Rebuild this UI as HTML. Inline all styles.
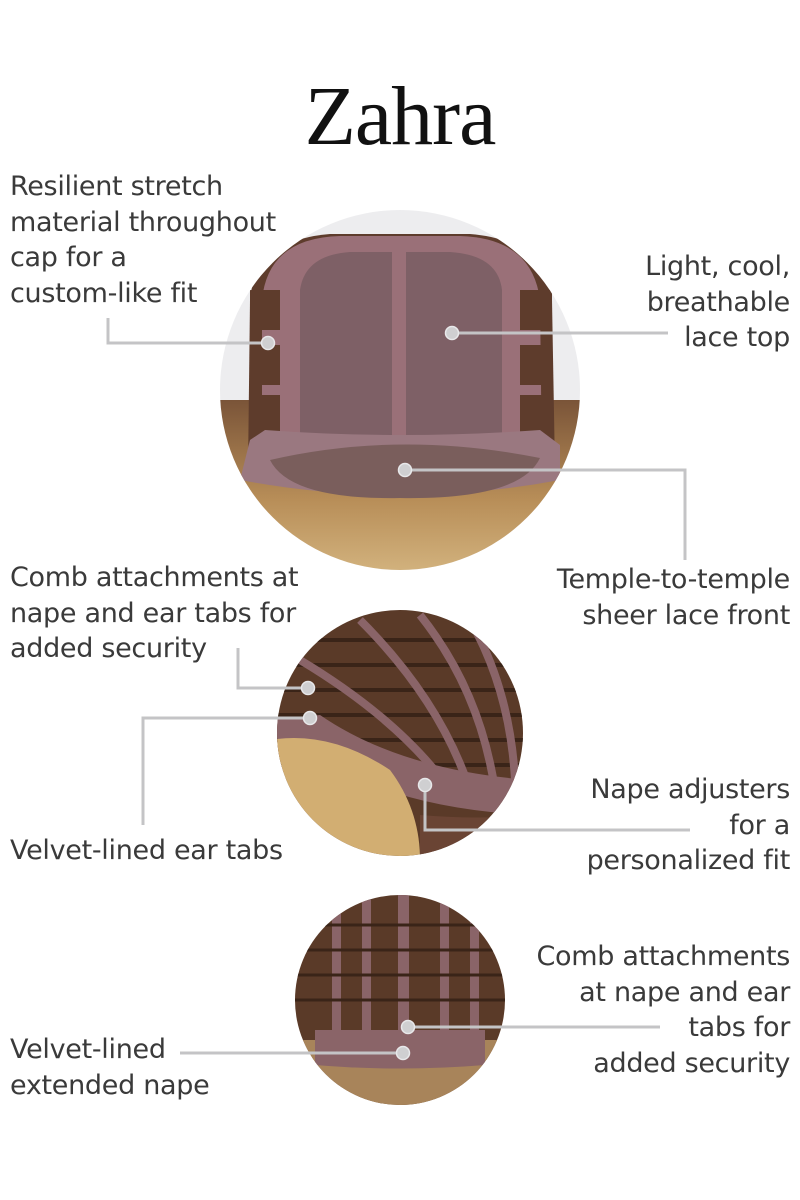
<!DOCTYPE html>
<html><head><meta charset="utf-8"><style>
html,body{margin:0;padding:0;background:#fff;}
body{width:800px;height:1200px;position:relative;overflow:hidden;font-family:"DejaVu Sans","Liberation Sans",sans-serif;color:#3a3a3a;}
.t{position:absolute;font-size:27px;line-height:35.5px;white-space:nowrap;letter-spacing:-0.3px;}
.r{text-align:right;right:10px;}
h1{position:absolute;top:68px;left:0;width:800px;margin:0;text-align:center;font-family:"Liberation Serif",serif;font-weight:normal;font-size:84px;color:#111;letter-spacing:-1px;}
svg{position:absolute;left:0;top:0;}
</style></head><body>
<svg width="800" height="1200" viewBox="0 0 800 1200">
<defs>
<clipPath id="c1"><circle cx="400" cy="390" r="180"/></clipPath>
<clipPath id="c2"><circle cx="400" cy="733" r="123"/></clipPath>
<clipPath id="c3"><circle cx="400" cy="1000" r="105"/></clipPath>
<linearGradient id="blond" x1="0" y1="0" x2="0" y2="1"><stop offset="0" stop-color="#7a5438"/><stop offset="0.5" stop-color="#b88e58"/><stop offset="1" stop-color="#dcc08c"/></linearGradient>
</defs>
<g clip-path="url(#c1)">
<rect x="200" y="200" width="400" height="400" fill="#ededef"/>
<rect x="200" y="400" width="400" height="200" fill="url(#blond)"/>
<path d="M248 470 L250 300 Q255 240 330 234 L470 234 Q545 240 552 300 L555 470 Z" fill="#5e3c2c"/>
<path d="M262 470 L262 300 Q268 238 340 236 L460 236 Q532 238 540 300 L542 470 Z" fill="#9a7078"/>
<path d="M300 440 L300 290 Q305 255 350 252 L450 252 Q498 255 502 290 L502 440 Z" fill="#7e6066"/>
<rect x="392" y="252" width="14" height="195" fill="#9a7078"/>
<g fill="#5e3c2c"><rect x="250" y="290" width="30" height="40"/><rect x="250" y="345" width="30" height="40"/><rect x="250" y="395" width="30" height="45"/><rect x="520" y="290" width="32" height="40"/><rect x="520" y="345" width="32" height="40"/><rect x="520" y="395" width="32" height="45"/></g>
<path d="M250 440 L265 430 Q400 440 540 430 L560 445 L560 480 Q400 510 240 480 Z" fill="#9a7880"/>
<path d="M270 460 Q400 430 540 458 Q520 500 400 498 Q290 500 270 460 Z" fill="#7a5e5c"/>
</g>
<g clip-path="url(#c2)">
<rect x="270" y="600" width="260" height="260" fill="#5a3a28"/>
<g stroke="#3a2418" stroke-width="4"><line x1="270" y1="640" x2="530" y2="640"/><line x1="270" y1="665" x2="530" y2="665"/><line x1="270" y1="690" x2="530" y2="690"/><line x1="270" y1="715" x2="530" y2="715"/><line x1="270" y1="740" x2="530" y2="740"/><line x1="270" y1="765" x2="530" y2="765"/></g>
<g stroke="#8a6468" stroke-width="8" fill="none"><path d="M300 660 Q400 720 450 790"/><path d="M360 620 Q440 700 470 790"/><path d="M420 615 Q480 690 495 790"/><path d="M470 620 Q510 690 515 780"/></g>
<path d="M270 720 L320 715 Q400 770 530 780 L530 815 Q430 810 360 780 L270 760 Z" fill="#8a6468"/>
<path d="M270 740 Q330 730 390 770 Q420 810 420 860 L270 860 Z" fill="#d2ae72"/>
<path d="M420 815 Q480 820 530 815 L530 860 L420 860 Z" fill="#6a4434"/>
</g>
<g clip-path="url(#c3)">
<rect x="290" y="890" width="220" height="220" fill="#5a3a28"/>
<rect x="290" y="1040" width="220" height="70" fill="#a8845a"/>
<g fill="#8a6468"><rect x="332" y="900" width="9" height="130"/><rect x="362" y="895" width="9" height="135"/><rect x="398" y="893" width="11" height="140"/><rect x="440" y="895" width="9" height="135"/><rect x="470" y="900" width="9" height="130"/></g>
<g stroke="#3a2418" stroke-width="3"><line x1="290" y1="925" x2="510" y2="925"/><line x1="290" y1="950" x2="510" y2="950"/><line x1="290" y1="975" x2="510" y2="975"/><line x1="290" y1="1000" x2="510" y2="1000"/></g>
<path d="M315 1030 L485 1030 L485 1065 Q400 1072 315 1065 Z" fill="#8a6468"/>
</g>
<g stroke="#c4c4c6" stroke-width="3" fill="none">
<polyline points="108,318 108,343 268,343"/>
<polyline points="452,333 668,333"/>
<polyline points="405,470 685,470 685,560"/>
<polyline points="238,648 238,688 308,688"/>
<polyline points="143,825 143,718 310,718"/>
<polyline points="425,785 425,830 690,830"/>
<polyline points="408,1027 660,1027"/>
<polyline points="180,1053 403,1053"/>
</g>
<g fill="#cfcfd1" stroke="#e8e8ea" stroke-width="1.5">
<circle cx="268" cy="343" r="6.5"/><circle cx="452" cy="333" r="6.5"/><circle cx="405" cy="470" r="6.5"/>
<circle cx="308" cy="688" r="6.5"/><circle cx="310" cy="718" r="6.5"/><circle cx="425" cy="785" r="6.5"/>
<circle cx="408" cy="1027" r="6.5"/><circle cx="403" cy="1053" r="6.5"/>
</g>
</svg>
<h1>Zahra</h1>
<div class="t" style="left:10px;top:169px">Resilient stretch<br>material throughout<br>cap for a<br>custom-like fit</div>
<div class="t r" style="top:249px">Light, cool,<br>breathable<br>lace top</div>
<div class="t r" style="top:562px">Temple-to-temple<br>sheer lace front</div>
<div class="t" style="left:10px;top:560px">Comb attachments at<br>nape and ear tabs for<br>added security</div>
<div class="t" style="left:10px;top:833px">Velvet-lined ear tabs</div>
<div class="t r" style="top:772px">Nape adjusters<br>for a<br>personalized fit</div>
<div class="t r" style="top:939px">Comb attachments<br>at nape and ear<br>tabs for<br>added security</div>
<div class="t" style="left:10px;top:1032px">Velvet-lined<br>extended nape</div>
</body></html>
